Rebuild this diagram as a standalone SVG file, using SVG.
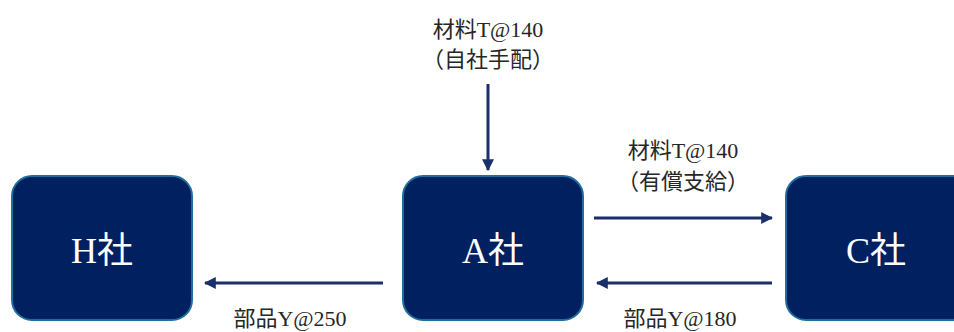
<svg xmlns="http://www.w3.org/2000/svg" width="954" height="332" viewBox="0 0 954 332">
<style>
.box{fill:#002060;stroke:#1F6E9C;stroke-width:2}
.lbl{font-family:"Liberation Serif","Noto Sans CJK JP",serif;font-size:36px;fill:#ffffff;text-anchor:middle}
.txt{font-family:"Liberation Serif","Noto Sans CJK JP",serif;font-size:22px;fill:#262626;text-anchor:middle}
.ln{stroke:#1A2F6B;stroke-width:3;fill:none;marker-end:url(#ah)}
</style>
<defs>
<marker id="ah" viewBox="0 0 10 10" refX="9" refY="5" markerWidth="4" markerHeight="4" orient="auto" markerUnits="strokeWidth">
<path d="M0,0 L10,5 L0,10 z" fill="#1A2F6B"/>
</marker>
</defs>
<rect width="954" height="332" fill="#ffffff"/>
<g id="node-H">
<rect class="box" x="12" y="176" width="180" height="144" rx="20"/>
<text class="lbl" x="102" y="263">H社</text>
</g>
<g id="node-A">
<rect class="box" x="403" y="176" width="180" height="144" rx="20"/>
<text class="lbl" x="493" y="263">A社</text>
</g>
<g id="node-C">
<rect class="box" x="786" y="176" width="190" height="144" rx="20"/>
<text class="lbl" x="876" y="263">C社</text>
</g>
<g id="connectors">
<line class="ln" x1="488" y1="84" x2="488" y2="170"/>
<line class="ln" x1="594" y1="218" x2="772" y2="218"/>
<line class="ln" x1="772" y1="283" x2="597" y2="283"/>
<line class="ln" x1="383" y1="283" x2="205" y2="283"/>
</g>
<g id="labels">
<text class="txt" x="488" y="37">材料T@140</text>
<text class="txt" x="488" y="67">（自社手配）</text>
<text class="txt" x="683" y="158">材料T@140</text>
<text class="txt" x="683" y="189">（有償支給）</text>
<text class="txt" x="680" y="326">部品Y@180</text>
<text class="txt" x="290" y="326">部品Y@250</text>
</g>
</svg>
